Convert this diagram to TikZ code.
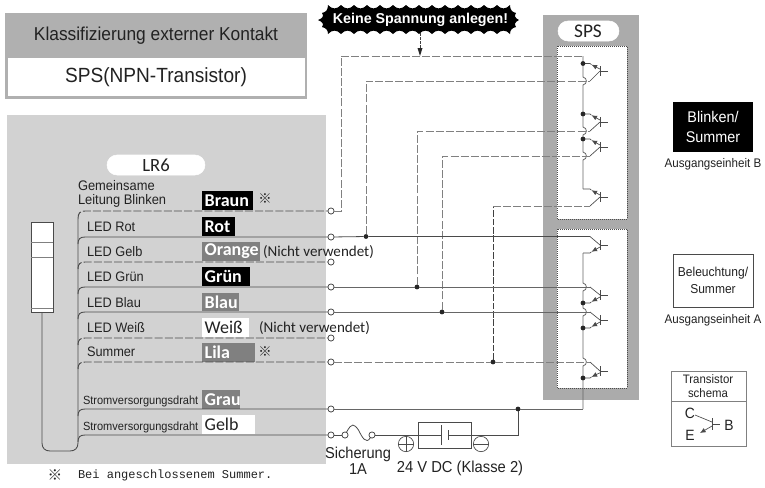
\documentclass[tikz,border=0pt]{standalone}
\usepackage{fontspec}
\setmainfont[FakeStretch=0.93]{Liberation Sans}
\newfontfamily\warnfont{Liberation Sans}
\newfontfamily\lblfont{Carlito}
\newfontfamily\cjkfont{Noto Sans CJK JP}
\newfontfamily\monofont{Liberation Mono}
\usetikzlibrary{arrows.meta,calc}
\definecolor{wire}{HTML}{4A4A4A}
\definecolor{dwire}{HTML}{808080}
\definecolor{txt}{HTML}{222222}
\definecolor{hdr}{HTML}{B0B0B0}
\definecolor{panel}{HTML}{D2D2D2}
\definecolor{spsgray}{HTML}{ABABAB}
\definecolor{tag}{HTML}{808080}
\newcommand{\fs}[2]{\fontsize{#1}{#2}\selectfont}
\tikzset{
  x=0.75pt,y=-0.75pt,
  plain/.style={inner sep=0pt,outer sep=0pt,text=txt},
  led/.style={plain,anchor=west,font=\fs{10.3}{11}},
  strom/.style={plain,anchor=west,font=\fs{8.9}{10}},
  tagb/.style={anchor=west,inner xsep=2pt,inner ysep=0pt,outer sep=0pt,align=left,font=\lblfont\bfseries\fs{13.5}{14},text=white,fill=black,minimum height=14.2pt},
  tagg/.style={tagb,fill=tag},
  tagw/.style={tagb,fill=white,text=txt,font=\lblfont\fs{13.5}{14}},
  nv/.style={plain,font=\lblfont\fs{11.3}{14}},
  ref/.style={plain,font=\cjkfont\fs{10}{10}},
  term/.style={circle,draw=wire,fill=white,line width=0.6pt,minimum size=4.6pt,inner sep=0pt,outer sep=0pt},
  jdot/.style={circle,fill=black!85,minimum size=3.6pt,inner sep=0pt,outer sep=0pt},
  trunk/.style={draw=wire,line width=0.65pt},
  sw/.style={draw=wire,line width=0.6pt},
  sw2/.style={draw=dwire!80!black,line width=0.6pt},
  dw/.style={draw=wire,line width=0.7pt,dash pattern=on 6pt off 1.6pt},
  dg/.style={draw=dwire,line width=0.7pt,dash pattern=on 6pt off 1.6pt},
  tsym/.style={draw=wire,line width=0.5pt},
  tarrow/.style={draw=wire,line width=0.5pt,-{Latex[length=4.2pt,width=3.6pt]}},
}
\newcommand{\transistor}[3]{%
  \draw[tsym] (590,#1) -- (600,#2) ;
  \draw[tsym] (600,#2-5) -- (600,#2+5) (600,#2) -- (608,#2);
  \draw[tarrow] (600,{(#2+(#3-#2)*0.25)}) -- (591.5,{(#2+(#3-#2)*0.85)});
  \draw[tsym] (591.5,{(#2+(#3-#2)*0.85)}) -- (590,#3) -- (583,#3);
}
\begin{document}
\begin{tikzpicture}
\useasboundingbox (0,0) rectangle (765,487);
% title
\fill[hdr] (5,13) rectangle (307,99);
\fill[white] (8,57.5) rectangle (305,96);
\node[plain,font=\fs{14}{15}] (title) at (156,36) {Klassifizierung externer Kontakt};
\node[plain,font=\fs{15.4}{16}] (sub) at (156,77) {SPS(NPN-Transistor)};
% panels
\fill[panel] (7,115) rectangle (326,464);
\fill[spsgray] (543,15) rectangle (639,400);
\draw[white,fill=white,rounded corners=10*0.75pt] (107,155) rectangle (205,175);
\node[plain,font=\lblfont\fs{14}{16}] (lr) at (156,165) {LR6};
\draw[white,fill=white,rounded corners=10*0.75pt] (558,21) rectangle (619,41);
\node[plain,font=\lblfont\fs{14.5}{16}] (sps) at (588,31) {SPS};
\draw[fill=white,draw=black!70,line width=0.5pt,densely dotted] (557,46) rectangle (627,219);
\draw[fill=white,draw=black!70,line width=0.5pt,densely dotted] (557,229) rectangle (627,388);
% tower
\node[draw=wire,fill=white,line width=0.6pt,minimum width=16.5pt,minimum height=67.5pt,inner sep=0pt,outer sep=0pt] (tower) at (42,267) {};
\draw[wire!70,line width=0.5pt] (31,242) -- (53,242) (31,257) -- (53,257) (31,308) -- (53,308);
% colour tags
\node[tagb,text width=34.2pt] (tBr) at (202,200.5) {Braun};
\node[tagb,text width=20.7pt] (tRo) at (202,226.5) {Rot};
\node[tagg,text width=39.5pt] (tOr) at (202,251.5) {Orange};
\node[tagb,text width=32pt] (tGr) at (202,276.5) {Grün};
\node[tagg,text width=23.7pt] (tBl) at (202,302) {Blau};
\node[tagw,text width=31.2pt] (tWe) at (202,327.5) {Weiß};
\node[tagg,text width=35.7pt] (tLi) at (202,352.5) {Lila};
\node[tagg,text width=24.5pt] (tGa) at (202,399.5) {Grau};
\node[tagw,text width=35.7pt] (tGe) at (202,424.5) {Gelb};
% lead labels
\node[plain,anchor=west,align=left,font=\fs{10.4}{10.4}] (lGem) at (78,193.5) {Gemeinsame\\Leitung Blinken};
\node[led] (l1) at (87,227) {LED Rot};
\node[led] (l2) at (87,252) {LED Gelb};
\node[led] (l3) at (87,277) {LED Grün};
\node[led] (l4) at (87,303) {LED Blau};
\node[led] (l5) at (87,328) {LED Weiß};
\node[led] (l6) at (87,352) {Summer};
\node[strom] (l7) at (83,401) {Stromversorgungsdraht};
\node[strom] (l8) at (83,427) {Stromversorgungsdraht};
\node[ref] (r1) at (265,199) {※};
\node[ref] (r2) at (265,352) {※};
\node[nv,anchor=west] (nv1) at (263,252) {(Nicht verwendet)};
\node[nv,anchor=west] (nv2) at (259,328) {(Nicht verwendet)};
% terminals and junctions
\node[term] (a1) at (331,211) {};
\node[term] (a2) at (331,237) {};
\node[term] (a3) at (331,262) {};
\node[term] (a4) at (331,287) {};
\node[term] (a5) at (331,312) {};
\node[term] (a6) at (331,338) {};
\node[term] (a7) at (331,362) {};
\node[term] (a8) at (331,409) {};
\node[term] (a9) at (331,435) {};
\node[jdot] (j2) at (366,236.5) {};
\node[jdot] (j4) at (417,287) {};
\node[jdot] (j5) at (442,312) {};
\node[jdot] (j7) at (493,362) {};
\node[jdot] (jP) at (518,409) {};
% leads in the panel with common trunk
\draw[trunk] (78,219) -- (78,443) .. controls (78,448) and (75,451) .. (70,451) -- (50,451) .. controls (45,451) and (42,448) .. (42,443) -- (tower.south);
\draw[dw] (78,219) .. controls (78,213) and (80,211) .. (85,211) -- (a1);
\draw[trunk] (78,244) .. controls (78,239) and (80,237) .. (85,237) -- (a2);
\draw[dw] (78,269) .. controls (78,264) and (80,262) .. (85,262) -- (a3);
\draw[trunk] (78,294) .. controls (78,289) and (80,287) .. (85,287) -- (a4);
\draw[trunk] (78,319) .. controls (78,314) and (80,312) .. (85,312) -- (a5);
\draw[dw] (78,345) .. controls (78,340) and (80,338) .. (85,338) -- (a6);
\draw[dw] (78,369) .. controls (78,364) and (80,362) .. (85,362) -- (a7);
\draw[trunk] (78,416) .. controls (78,411) and (80,409) .. (85,409) -- (a8);
\draw[trunk] (78,442) .. controls (78,437) and (80,435) .. (85,435) -- (a9);
% vertical common lines inside the SPS
\draw[sw2] (583,56) -- (583,77) .. controls (587.5,78) and (587.5,84) .. (583,85)
  -- (583,127) .. controls (587.5,128) and (587.5,134) .. (583,135)
  -- (583,152) .. controls (587.5,153) and (587.5,159) .. (583,160)
  -- (583,189);
\draw[sw2] (583,253) -- (583,283) .. controls (587.5,284) and (587.5,290) .. (583,291)
  -- (583,308) .. controls (587.5,309) and (587.5,315) .. (583,316)
  -- (583,358) .. controls (587.5,359) and (587.5,365) .. (583,366)
  -- (583,409);
% outgoing wires
\draw[dg] (a1) -- (341,211) -- (341,56) -- (583,56);
\draw[dg] (j2) -- (366,81) -- (590,81);
\draw[dg] (j4) -- (417,131) -- (590,131);
\draw[dg] (j5) -- (442,156) -- (590,156);
\draw[draw=black!75,line width=0.5pt,dash pattern=on 5pt off 1.3pt] (j7) -- (493,206);
\draw[dg] (493,206) -- (590,206);
\draw[sw] (a2) -- (j2) -- (590,236.5);
\draw[sw2] (a4) -- (j4) -- (590,287);
\draw[sw2] (a5) -- (j5) -- (590,312);
\draw[dg] (a7) -- (j7) -- (590,362);
\draw[sw2] (a8) -- (jP) -- (583,409);
% transistors
\transistor{81}{71}{63.5}
\transistor{131}{122}{114}
\transistor{156}{147}{139}
\transistor{206}{197}{189}
\transistor{236.5}{245}{253}
\transistor{287}{295}{303}
\transistor{312}{320}{328}
\transistor{362}{371}{378}
\node[jdot] at (583,63.5) {};
\node[jdot] at (583,114) {};
\node[jdot] at (583,139) {};
\node[jdot] at (583,303) {};
\node[jdot] at (583,328) {};
\node[jdot] at (583,378) {};
% supply line
\node[term] (f1) at (345,435) {};
\node[term] (f2) at (372,435) {};
\node[draw=wire,line width=0.6pt,minimum width=39.7pt,minimum height=19.5pt,inner sep=0pt,outer sep=0pt] (bat) at (444.5,435) {};
\coordinate (pl) at (441,435);
\coordinate (mi) at (448,435);
\draw[sw] (a9) -- (f1);
\draw[sw] (f1) .. controls (352,422) and (354,424) .. (358.5,430) .. controls (362,437) and (366,445) .. (f2);
\draw[sw] (f2) -- (pl);
\draw[sw] (mi) -- (518,435) -- (jP);
\draw[wire,line width=0.6pt] (441,425) -- (441,445) (448,430) -- (448,440);
\node[circle,draw=wire,line width=0.5pt,minimum size=11.5pt,inner sep=0pt] (plus) at (406,444) {};
\draw[wire,line width=0.5pt] (plus.west) -- (plus.east) (plus.north) -- (plus.south);
\node[circle,draw=wire,line width=0.5pt,minimum size=11.5pt,inner sep=0pt] (minus) at (481,444) {};
\draw[wire,line width=0.5pt] (minus.west) -- (minus.east);
\node[plain,align=center,font=\fs{11.8}{12.3}] (fuse) at (358,461) {Sicherung\\1A};
\node[plain,font=\fs{11.9}{13}] (dc) at (460,468) {24 V DC (Klasse 2)};
% warning burst
\fill[black] (328,5)
  \foreach \i [evaluate=\i as \a using 328+13*\i+4,evaluate=\i as \b using 328+13*\i+9,evaluate=\i as \c using 328+13*\i+13] in {0,...,13} { .. controls (\a,9.5) and (\b,9.5) .. (\c,5) }
  .. controls (510,10) and (512,12) .. (516,13) .. controls (514,16) and (515,18) .. (519,20)
  .. controls (515,22) and (514,24) .. (516,27) .. controls (512,28) and (510,30) .. (510,34)
  \foreach \i [evaluate=\i as \a using 510-13*\i-4,evaluate=\i as \b using 510-13*\i-9,evaluate=\i as \c using 510-13*\i-13] in {0,...,13} { .. controls (\a,29.5) and (\b,29.5) .. (\c,34) }
  .. controls (328,30) and (326,28) .. (322,27) .. controls (324,24) and (323,22) .. (318,20)
  .. controls (323,18) and (324,16) .. (322,13) .. controls (326,12) and (328,10) .. (328,5) -- cycle;
\node[inner sep=0pt,outer sep=0pt,text=white,font=\warnfont\bfseries\fs{10.7}{12}] (warn) at (420.5,20) {Keine Spannung anlegen!};
\coordinate (wb) at (420,33);
\coordinate (we) at (420,56);
\draw[draw=black!75,line width=0.5pt,dash pattern=on 2pt off 1pt] (wb) -- (420,50);
\draw[draw=none,fill=black!85] (we) -- (417.5,48) -- (422.5,48) -- cycle;
% right legend
\node[fill=black,text=white,minimum width=60pt,minimum height=37.5pt,inner sep=0pt,outer sep=0pt,align=center,font=\fs{11.6}{15}] (leg1) at (713,127) {Blinken/\\Summer};
\node[plain,font=\fs{9.35}{10}] (cap1) at (713,164) {Ausgangseinheit B};
\node[draw=wire,line width=0.6pt,fill=white,text=txt,minimum width=60pt,minimum height=39.7pt,inner sep=0pt,outer sep=0pt,align=center,font=\fs{9.7}{12.7}] (leg2) at (713,280.5) {Beleuchtung/\\Summer};
\node[plain,font=\fs{9.35}{10}] (cap2) at (713,320) {Ausgangseinheit A};
\draw[draw=wire!70,line width=0.5pt] (671,371) rectangle (746,446) (671,401) -- (746,401);
\node[plain,align=center,font=\fs{9.2}{10.5}] (ts) at (708,386.5) {Transistor\\schema};
\node[plain,font=\fs{11.2}{12}] (tC) at (690,413) {C};
\node[plain,font=\fs{11.2}{12}] (tE) at (690,435) {E};
\node[plain,font=\fs{11.2}{12}] (tB) at (729,425) {B};
\draw[tsym] (tC) ++(5,2) -- (712,422);
\draw[tsym] (712,418) -- (712,430) (712,424) -- (720,424);
\draw[tarrow] (712,426) -- (700,433);
% footnote
\node[ref,font=\cjkfont\fs{11}{10}] (r3) at (55,475) {※};
\node[plain,anchor=west,font=\monofont\fs{9}{10}] (foot) at (78,475) {Bei angeschlossenem Summer.};
\end{tikzpicture}
\end{document}
